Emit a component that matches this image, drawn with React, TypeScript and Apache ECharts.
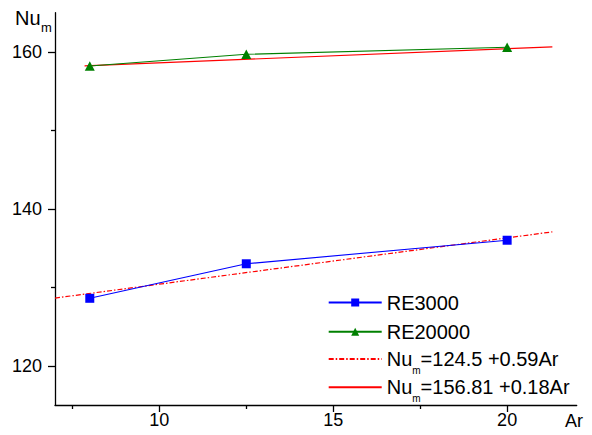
import React, { useEffect, useRef } from "react";
import * as echarts from "echarts";

// Measured Nusselt numbers against aspect ratio Ar
const arValues = [8, 12.5, 20];
const re3000 = [128.6, 133.0, 136.0];
const re20000 = [158.2, 159.7, 160.6];

// Linear fits: [intercept, slope] and the Ar range each fitted line covers
const fit3000Coef = [124.5, 0.59];
const fit3000Range = [7, 21.3];
const fit20000Coef = [156.81, 0.18];
const fit20000Range = [7.85, 21.3];

// Axis ticks
const xMajorTicks = [10, 15, 20];
const xMinorTicks = [7.5, 12.5, 17.5];
const yMajorTicks = [120, 140, 160];
const yMinorTicks = [130, 150];

const FONT = "'Liberation Sans', Arial, sans-serif";

const fitLine = (coef: number[], range: number[]) =>
  range.map((x) => [x, coef[0] + coef[1] * x]);

const legendNames = {
  a: "RE3000",
  b: "RE20000",
  c: "Nu_m=124.5 +0.59Ar",
  d: "Nu_m=156.81 +0.18Ar",
};

export default function App() {
  const ref = useRef<HTMLDivElement>(null);

  useEffect(() => {
    if (!ref.current) return;
    const chart = echarts.init(ref.current, null, { renderer: "svg" });

    const legendText = {
      fontSize: 20,
      lineHeight: 20,
      fontFamily: FONT,
      color: "#000",
      rich: {
        n: { fontSize: 20, lineHeight: 20, fontFamily: FONT, color: "#000" },
        s: {
          fontSize: 10,
          lineHeight: 10,
          fontFamily: FONT,
          color: "#000",
          padding: [22, 0, 0, 0],
        },
      },
    };
    const legendFormatter = (name: string) =>
      name.startsWith("Nu_m")
        ? "{n|Nu}{s|m}{n|" + name.slice(4) + "}"
        : name;
    const makeLegend = (name: string, top: number, lineOnly: boolean) => ({
      data: [name],
      orient: "vertical",
      left: 327.7,
      top,
      padding: 0,
      itemWidth: 53,
      itemHeight: 10,
      itemGap: 0,
      selectedMode: false,
      formatter: legendFormatter,
      textStyle: legendText,
      ...(lineOnly ? { itemStyle: { opacity: 0 } } : {}),
    });

    const axisLineStyle = { color: "#000", width: 1.3 };

    chart.setOption({
      animation: false,
      backgroundColor: "#fff",
      grid: { left: 55, right: 15.3, top: 12.7, bottom: 30, containLabel: false },
      legend: [
        makeLegend(legendNames.a, 292.5, false),
        makeLegend(legendNames.b, 321.7, false),
        makeLegend(legendNames.c, 343, true),
        makeLegend(legendNames.d, 371.3, true),
      ],
      xAxis: [
        {
          type: "value",
          min: 7,
          max: 22,
          position: "bottom",
          axisLine: { show: true, onZero: false, lineStyle: axisLineStyle },
          axisTick: {
            show: true,
            customValues: xMajorTicks,
            length: 7,
            lineStyle: axisLineStyle,
          },
          axisLabel: {
            customValues: xMajorTicks,
            fontSize: 18,
            fontFamily: FONT,
            color: "#000",
            margin: 6,
          },
          splitLine: { show: false },
        },
        {
          type: "value",
          min: 7,
          max: 22,
          position: "bottom",
          axisLine: { show: false, onZero: false },
          axisTick: {
            show: true,
            customValues: xMinorTicks,
            length: 4,
            lineStyle: axisLineStyle,
          },
          axisLabel: { show: false },
          splitLine: { show: false },
        },
      ],
      yAxis: [
        {
          type: "value",
          min: 115,
          max: 165,
          position: "left",
          axisLine: { show: true, onZero: false, lineStyle: axisLineStyle },
          axisTick: {
            show: true,
            customValues: yMajorTicks,
            length: 7,
            lineStyle: axisLineStyle,
          },
          axisLabel: {
            customValues: yMajorTicks,
            fontSize: 18,
            fontFamily: FONT,
            color: "#000",
            margin: 13,
          },
          splitLine: { show: false },
        },
        {
          type: "value",
          min: 115,
          max: 165,
          position: "left",
          axisLine: { show: false, onZero: false },
          axisTick: {
            show: true,
            customValues: yMinorTicks,
            length: 4,
            lineStyle: axisLineStyle,
          },
          axisLabel: { show: false },
          splitLine: { show: false },
        },
      ],
      graphic: [
        {
          type: "text",
          left: 15,
          top: 8.4,
          style: { text: "Nu", fontSize: 20, fontFamily: FONT, fill: "#000" },
        },
        {
          type: "text",
          left: 41,
          top: 21,
          style: { text: "m", fontSize: 13, fontFamily: FONT, fill: "#000" },
        },
        {
          type: "text",
          left: 565,
          top: 411.5,
          style: { text: "Ar", fontSize: 18, fontFamily: FONT, fill: "#000" },
        },
      ],
      series: [
        {
          name: legendNames.a,
          type: "line",
          data: arValues.map((x, i) => [x, re3000[i]]),
          symbol: "rect",
          symbolSize: 9,
          color: "#0000ff",
          lineStyle: { color: "#0000ff", width: 1.1 },
          itemStyle: { color: "#0000ff" },
          z: 3,
        },
        {
          name: legendNames.b,
          type: "line",
          data: arValues.map((x, i) => [x, re20000[i]]),
          symbol: "triangle",
          symbolSize: [10, 9.5],
          color: "#008000",
          lineStyle: { color: "#008000", width: 1.1 },
          itemStyle: { color: "#008000" },
          z: 3,
        },
        {
          name: legendNames.c,
          type: "line",
          data: fitLine(fit3000Coef, fit3000Range),
          symbol: "none",
          color: "#ff0000",
          lineStyle: { color: "#ff0000", width: 1.2, type: [5, 2, 1.5, 2] },
          z: 2,
        },
        {
          name: legendNames.d,
          type: "line",
          data: fitLine(fit20000Coef, fit20000Range),
          symbol: "none",
          color: "#ff0000",
          lineStyle: { color: "#ff0000", width: 1.2 },
          z: 2,
        },
      ],
    });

    return () => chart.dispose();
  }, []);

  return <div ref={ref} style={{ width: 592, height: 435, position: "absolute", left: 0, top: 0 }} />;
}
